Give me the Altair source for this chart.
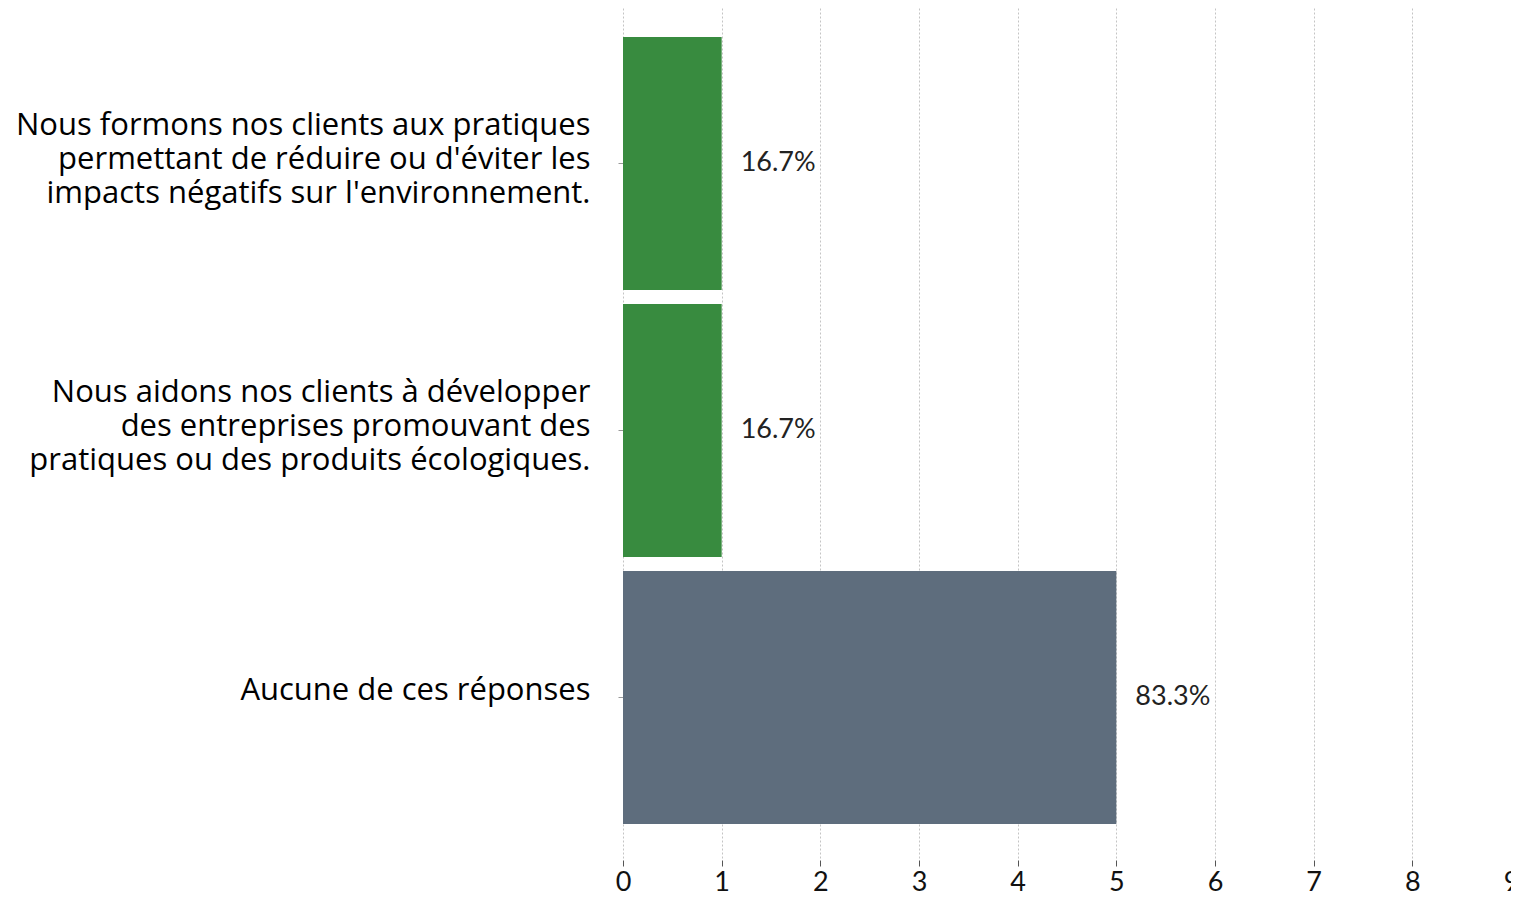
import altair as alt
import pandas as pd

categories = [
    "Nous formons nos clients aux pratiques|permettant de réduire ou d'éviter les|impacts négatifs sur l'environnement.",
    "Nous aidons nos clients à développer|des entreprises promouvant des|pratiques ou des produits écologiques.",
    "Aucune de ces réponses",
]
counts = [1, 1, 5]
percent_labels = ["16.7%", "16.7%", "83.3%"]
bar_colors = ["#388B3F", "#388B3F", "#5E6D7D"]
x_ticks = [0, 1, 2, 3, 4, 5, 6, 7, 8, 9]

df = pd.DataFrame({
    "cat": categories,
    "count": counts,
    "pct": percent_labels,
    "color": bar_colors,
})

y_enc = alt.Y(
    "cat:N",
    sort=categories,
    title=None,
    scale=alt.Scale(paddingInner=0.0524, paddingOuter=0.118, align=0.46),
    axis=alt.Axis(
        labelExpr="split(datum.label, '|')",
        labelFont="Open Sans",
        labelFontSize=31,
        labelColor="#000000",
        labelLineHeight=34,
        labelPadding=28,
        labelLimit=0,
        labelOffset={"condition": {"test": "indexof(datum.value, '|') >= 0", "value": -37}, "value": -6},
        tickSize=5,
        tickColor="#999999",
        domain=False,
        grid=False,
    ),
)

x_enc = alt.X(
    "count:Q",
    title=None,
    scale=alt.Scale(domain=[0, 9], nice=False),
    axis=alt.Axis(
        values=x_ticks,
        format="d",
        labelFont="Lato",
        labelFontSize=27,
        labelColor="#111111",
        labelPadding=3,
        labelFlush=False,
        labelOverlap=False,
        tickSize=6,
        offset=2,
        tickColor="#555555",
        domain=False,
        grid=True,
        gridColor="#c4c4c4",
        gridDash=[2, 2],
        gridWidth=1,
    ),
)

bars = alt.Chart(df).mark_bar().encode(
    x=x_enc,
    y=y_enc,
    color=alt.Color("color:N", scale=None),
)

text = alt.Chart(df).mark_text(
    align="left", baseline="middle", dx=19, font="Lato", fontSize=27, color="#222222"
).encode(
    x="count:Q",
    y=alt.Y("cat:N", sort=categories),
    text="pct:N",
)

chart = (bars + text).properties(
    width=888,
    height=850,
    autosize=alt.AutoSizeParams(type="none"),
    padding={"left": 615, "top": 0, "right": 0, "bottom": 38},
).configure_view(stroke=None)

chart.save("out.html", embed_options={"renderer": "svg", "actions": False})
